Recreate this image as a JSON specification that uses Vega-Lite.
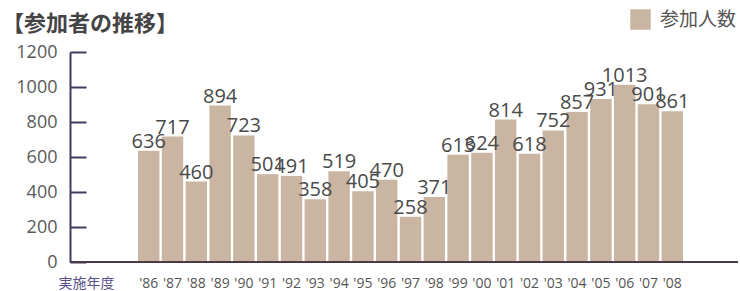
{
  "$schema": "https://vega.github.io/schema/vega-lite/v6.json",
  "width": 668,
  "height": 210,
  "autosize": "none",
  "padding": {"left": 70, "top": 52, "right": 2, "bottom": 29},
  "background": "white",
  "config": {"view": {"stroke": null}, "font": "Open Sans"},
  "title": {
    "text": "【参加者の推移】",
    "font": "Noto Sans CJK JP",
    "fontSize": 22,
    "fontWeight": "bold",
    "color": "#444444",
    "anchor": "start",
    "frame": "group",
    "baseline": "alphabetic",
    "dx": -68,
    "offset": -44
  },
  "data": {
    "values": [
      {"year": "'86", "value": 636},
      {"year": "'87", "value": 717},
      {"year": "'88", "value": 460},
      {"year": "'89", "value": 894},
      {"year": "'90", "value": 723},
      {"year": "'91", "value": 501},
      {"year": "'92", "value": 491},
      {"year": "'93", "value": 358},
      {"year": "'94", "value": 519},
      {"year": "'95", "value": 405},
      {"year": "'96", "value": 470},
      {"year": "'97", "value": 258},
      {"year": "'98", "value": 371},
      {"year": "'99", "value": 613},
      {"year": "'00", "value": 624},
      {"year": "'01", "value": 814},
      {"year": "'02", "value": 618},
      {"year": "'03", "value": 752},
      {"year": "'04", "value": 857},
      {"year": "'05", "value": 931},
      {"year": "'06", "value": 1013},
      {"year": "'07", "value": 901},
      {"year": "'08", "value": 861}
    ]
  },
  "layer": [
    {
      "mark": {"type": "bar"},
      "encoding": {
        "x": {
          "field": "year",
          "type": "ordinal",
          "sort": null,
          "scale": {"paddingInner": 0.1, "paddingOuter": 0, "range": [68, 613]},
          "axis": {
            "title": "実施年度",
            "labelAngle": 0,
            "ticks": false,
            "domain": false,
            "labelPadding": 14,
            "labelFontSize": 14,
            "labelColor": "#555555",
            "labelOverlap": false,
            "titleFont": "Noto Sans CJK JP",
            "titleFontSize": 14,
            "titleColor": "#5a4f8a",
            "titleFontWeight": "normal",
            "titleAnchor": "start",
            "titleAlign": "left",
            "titleX": -12,
            "titleY": 14,
            "titleBaseline": "top"
          }
        },
        "y": {
          "field": "value",
          "type": "quantitative",
          "scale": {"domain": [0, 1200], "nice": false},
          "axis": {
            "title": null,
            "values": [0, 200, 400, 600, 800, 1000, 1200],
            "format": "d",
            "grid": false,
            "tickSize": -16,
            "tickWidth": 2,
            "tickColor": "#3d3d5c",
            "domainColor": "#3d3d5c",
            "domainWidth": 2,
            "labelFontSize": 18,
            "labelColor": "#5a5a5a",
            "labelPadding": 29,
            "labelOverlap": false
          }
        },
        "color": {
          "datum": "参加人数",
          "scale": {"range": ["#c9b5a2"]},
          "legend": {
            "title": null,
            "orient": "none",
            "legendX": 560,
            "legendY": -43,
            "symbolType": "square",
            "symbolSize": 420,
            "symbolStrokeWidth": 0,
            "symbolOpacity": 1,
            "labelFont": "Noto Sans CJK JP",
            "labelFontSize": 19,
            "labelColor": "#555555",
            "labelOffset": 9
          }
        }
      }
    },
    {
      "mark": {"type": "text", "baseline": "bottom", "dy": 1, "fontSize": 20, "color": "#4a4a4a"},
      "encoding": {
        "x": {"field": "year", "type": "ordinal", "sort": null},
        "y": {
          "field": "value",
          "type": "quantitative",
          "axis": {
            "title": null,
            "values": [0, 200, 400, 600, 800, 1000, 1200],
            "format": "d",
            "grid": false,
            "tickSize": -16,
            "tickWidth": 2,
            "tickColor": "#3d3d5c",
            "domainColor": "#3d3d5c",
            "domainWidth": 2,
            "labelFontSize": 18,
            "labelColor": "#5a5a5a",
            "labelPadding": 29,
            "labelOverlap": false
          }
        },
        "text": {"field": "value", "type": "quantitative"}
      }
    },
    {
      "data": {"values": [{}]},
      "mark": {"type": "rule", "color": "#4a3a4a", "strokeWidth": 2},
      "encoding": {
        "y": {
          "datum": 0,
          "type": "quantitative",
          "axis": {
            "title": null,
            "values": [0, 200, 400, 600, 800, 1000, 1200],
            "format": "d",
            "grid": false,
            "tickSize": -16,
            "tickWidth": 2,
            "tickColor": "#3d3d5c",
            "domainColor": "#3d3d5c",
            "domainWidth": 2,
            "labelFontSize": 18,
            "labelColor": "#5a5a5a",
            "labelPadding": 29,
            "labelOverlap": false
          }
        }
      }
    }
  ]
}
